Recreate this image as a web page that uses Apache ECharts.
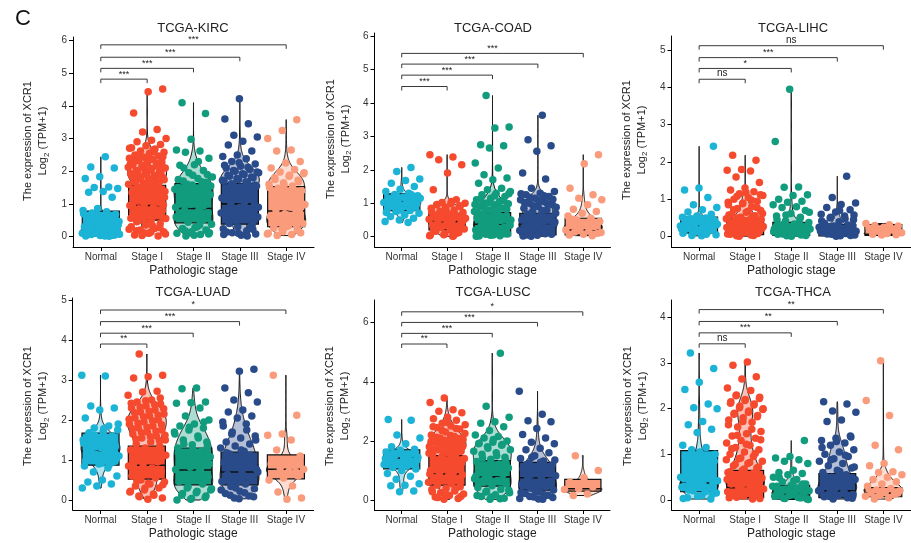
<!DOCTYPE html>
<html><head><meta charset="utf-8">
<script src="https://cdn.jsdelivr.net/npm/echarts@6/dist/echarts.min.js"></script>
<style>html,body{margin:0;padding:0;background:#fff}#c{width:911px;height:543px}</style>
</head><body><div id="c"></div>
<script>
// ---------------- data ----------------
const categories = ['Normal', 'Stage I', 'Stage II', 'Stage III', 'Stage IV'];
const stageColors = ['#1BB3D6', '#F64A2E', '#129C7E', '#2A4B8A', '#FA9B7C'];
const panelTitles = ['TCGA-KIRC', 'TCGA-COAD', 'TCGA-LIHC', 'TCGA-LUAD', 'TCGA-LUSC', 'TCGA-THCA'];
const comparisons = [[1, 2], [1, 3], [1, 4], [1, 5]];

const KIRC_values = [
  [2.44,2.13,2.1,1.83,1.78,1.52,1.5,1.47,1.38,1.36,1.2,0.86,0.8,0.76,0.72,0.68,0.63,0.58,0.55,0.5,0.46,0.42,0.4,0.36,0.33,0.3,0.28,0.25,0.22,0.2,0.18,0.15,0.13,0.1,0.08,0.06,0.05,0.03,0.02,0.01,0.12,0.35,0.45,0.6,0.04,0.09,0.7,0.65,0.52,0.38,0.32,0.26,0.16,0.11,0.07,0.02,0.24,0.48],
  [4.52,4.43,3.78,3.28,3.2,3.0,2.95,2.9,2.82,2.78,2.72,2.68,2.62,2.58,2.55,2.5,2.47,2.43,2.4,2.36,2.32,2.28,2.25,2.2,2.17,2.13,2.1,2.06,2.02,2.0,1.96,1.92,1.88,1.85,1.8,1.77,1.72,1.68,1.64,1.6,1.55,1.5,1.45,1.4,1.35,1.3,1.25,1.2,1.15,1.1,1.05,1.0,0.95,0.9,0.85,0.8,0.75,0.7,0.65,0.6,0.55,0.5,0.45,0.4,0.35,0.3,0.25,0.2,0.15,0.1,0.05,0.02,0.12,0.22,0.33,0.48,0.62,0.78,0.92,1.08,1.22,1.38,1.52,1.7,1.9,2.05,2.22,
   2.6,2.52,2.44,2.38,2.3,2.24,2.18,2.12,2.08,1.98,1.94,1.9,1.86,1.82,1.78,1.74,1.7,1.66,1.62,1.58,2.7,2.65,2.35,2.15,1.99,1.83,1.67,0.03,0.08,0.14,0.18,0.27,0.42,0.56,0.68,0.82,0.97,1.12,1.28,1.42],
  [4.1,3.77,2.98,2.65,2.62,2.58,2.4,2.2,2.18,2.02,1.95,1.82,1.78,1.7,1.66,1.58,1.5,1.42,1.35,1.28,1.2,1.12,1.05,0.98,0.9,0.86,0.8,0.72,0.65,0.58,0.5,0.44,0.38,0.3,0.25,0.2,0.15,0.1,0.06,0.02,0.12,0.28,0.55,0.95,1.25,1.45,2.3,2.1,1.9,1.88,1.75,1.68,1.6,1.55,1.3,1.15,1.0,0.7,0.6,0.35,0.18,0.08,0.04],
  [4.22,3.6,3.45,3.1,3.05,2.92,2.8,2.62,2.5,2.45,2.38,2.3,2.22,2.15,2.1,2.05,2.0,1.95,1.9,1.85,1.8,1.75,1.7,1.65,1.6,1.55,1.48,1.4,1.32,1.25,1.18,1.1,1.02,0.96,0.9,0.82,0.75,0.68,0.6,0.52,0.45,0.38,0.3,0.24,0.18,0.12,0.08,0.04,0.14,0.28,0.5,0.72,1.05,1.28,1.5,
   2.26,2.18,2.12,2.02,1.98,1.92,1.88,1.82,1.78,1.72,1.68,1.62,1.58,1.52,1.45,1.35,1.2,0.9,0.65,0.4,0.22,0.1,0.06,0.02],
  [3.58,3.25,3.0,2.65,2.62,2.3,2.25,2.1,2.05,1.98,1.92,1.85,1.8,1.72,1.65,1.6,1.55,1.48,1.4,1.32,1.25,1.15,1.05,0.98,0.9,0.82,0.76,0.7,0.62,0.55,0.48,0.4,0.32,0.26,0.2,0.15,0.1,0.06,0.03,0.12,0.3,0.58,0.85,1.2,1.95,1.88,1.75,1.68,1.58,1.5,1.35,1.1,0.95,0.65,0.45,0.35,0.22,0.08]
];
const COAD_values = [
  [2.07,1.95,1.72,1.68,1.6,1.5,1.42,1.35,1.3,1.26,1.22,1.18,1.12,1.08,1.05,1.02,0.98,0.95,0.9,0.86,0.82,0.78,0.75,0.7,0.65,0.6,0.55,0.5,0.45,0.42,1.15,1.0,0.92,1.1,1.25,1.2,1.15,1.0,0.95,0.88,0.8,0.72],
  [2.45,2.38,2.3,2.15,1.9,1.4,1.1,1.02,1.0,0.98,0.95,0.92,0.88,0.85,0.8,0.76,0.72,0.68,0.65,0.6,0.56,0.52,0.48,0.45,0.42,0.38,0.35,0.3,0.27,0.23,0.2,0.16,0.12,0.08,0.05,0.02,0.62,0.44,0.33,0.18,0.1,0.7,0.55,1.05,0.96,0.9,0.82,0.74,0.66,0.58,0.5,0.4,0.25,0.14,0.06,0.03,0.01],
  [4.22,3.28,3.25,2.75,2.72,2.65,2.2,2.05,1.85,1.75,1.7,1.6,1.45,1.4,1.35,1.3,1.25,1.2,1.15,1.1,1.05,1.0,0.98,0.95,0.9,0.85,0.8,0.75,0.72,0.68,0.62,0.58,0.52,0.48,0.44,0.4,0.36,0.32,0.28,0.24,0.2,0.16,0.12,0.08,0.05,0.02,0.1,0.3,0.5,0.65,0.14,0.26,0.38,0.56,0.03,0.07,
   1.28,1.22,1.12,1.08,1.02,0.96,0.92,0.88,0.82,0.78,0.7,0.6,0.45,0.34,0.22,0.18,0.09,0.04,0.01,0.15],
  [3.63,2.9,2.72,2.55,1.9,1.72,1.45,1.35,1.3,1.25,1.2,1.15,1.1,1.05,1.0,0.95,0.9,0.85,0.8,0.75,0.7,0.66,0.62,0.58,0.54,0.5,0.46,0.42,0.38,0.34,0.3,0.26,0.22,0.18,0.14,0.1,0.07,0.04,0.02,0.12,0.28,0.44,0.6,0.05,0.2,0.36,
   1.28,1.22,1.18,1.12,1.08,1.02,0.98,0.92,0.88,0.78,0.68,0.48,0.32,0.16,0.09,0.01],
  [2.45,2.18,1.45,1.25,1.15,1.1,0.95,0.82,0.75,0.7,0.62,0.55,0.5,0.45,0.4,0.35,0.3,0.25,0.2,0.17,0.14,0.1,0.07,0.05,0.03,0.22,0.12,0.38,0.52]
];
const LIHC_values = [
  [2.42,1.3,1.25,1.05,0.85,0.78,0.72,0.66,0.6,0.55,0.52,0.5,0.47,0.44,0.4,0.37,0.34,0.31,0.28,0.25,0.22,0.19,0.16,0.13,0.1,0.08,0.05,0.02,0.3,0.35,0.42,0.2,0.12,0.48,0.26,0.5,0.46,0.43,0.38,0.33,0.29,0.23,0.18,0.14,0.09,0.06,0.03],
  [2.18,2.05,1.8,1.78,1.76,1.6,1.45,1.3,1.25,1.2,1.15,1.1,1.05,1.0,0.95,0.9,0.85,0.8,0.75,0.7,0.65,0.6,0.56,0.52,0.48,0.45,0.42,0.38,0.35,0.32,0.28,0.25,0.22,0.19,0.16,0.13,0.1,0.07,0.04,0.02,0.3,0.2,0.12,0.4,0.05,0.27,0.15,0.36,0.08,0.44,
   0.58,0.54,0.5,0.46,0.43,0.39,0.33,0.29,0.24,0.21,0.17,0.14,0.11,0.06,0.03,0.01,0.62,0.68,0.72,0.78,0.88,0.92,0.98,1.08,1.12,1.18],
  [3.95,2.55,1.33,1.32,1.12,1.1,1.0,0.95,0.92,0.85,0.8,0.78,0.7,0.62,0.55,0.48,0.42,0.38,0.34,0.3,0.27,0.24,0.21,0.18,0.15,0.12,0.09,0.06,0.04,0.02,0.2,0.1,0.3,0.14,0.05,0.25,0.36,0.33,0.29,0.26,0.22,0.19,0.16,0.13,0.11,0.07,0.03,0.01,0.45,0.52,0.58,0.65],
  [1.62,1.05,0.9,0.86,0.78,0.72,0.66,0.6,0.55,0.5,0.45,0.4,0.35,0.31,0.28,0.25,0.22,0.19,0.16,0.13,0.1,0.08,0.06,0.04,0.02,0.12,0.2,0.05,0.15,0.09,0.27,0.3,0.26,0.23,0.21,0.18,0.14,0.11,0.07,0.03,0.01,0.42,0.48,0.52,0.58,0.7],
  [0.35,0.32,0.3,0.28,0.25,0.22,0.18,0.14,0.1,0.08,0.06,0.05,0.04]
];
const LUAD_values = [
  [3.12,3.1,2.35,2.3,2.25,2.05,1.85,1.8,1.75,1.7,1.65,1.6,1.55,1.5,1.45,1.4,1.35,1.3,1.25,1.2,1.15,1.1,1.05,1.0,0.95,0.9,0.85,0.8,0.7,0.6,0.5,0.45,0.4,0.35,0.3,1.22,1.28,1.18,1.38,0.98,0.88,1.62,1.9,1.78,1.68,1.58,1.48,1.42,1.32,1.12,1.02,0.92],
  [3.65,3.12,3.08,3.05,2.72,2.7,2.62,2.5,2.45,2.4,2.35,2.3,2.25,2.2,2.15,2.1,2.05,2.0,1.95,1.9,1.85,1.8,1.75,1.7,1.65,1.6,1.55,1.5,1.45,1.4,1.35,1.3,1.25,1.2,1.15,1.1,1.05,1.0,0.95,0.9,0.85,0.8,0.75,0.7,0.65,0.6,0.55,0.5,0.45,0.4,0.35,0.3,0.25,0.2,0.15,0.1,0.05,0.02,0.88,0.62,0.98,1.12,0.72,0.48,
   2.55,2.48,2.42,2.38,2.32,2.28,2.22,2.18,2.12,2.08,2.02,1.98,1.92,1.88,1.82,1.78,1.72,1.68,1.62,1.58,1.52,1.48,0.3,0.22,0.12,0.08,0.38,0.42],
  [2.8,2.78,2.45,2.43,2.42,2.3,2.1,2.0,1.9,1.85,1.8,1.75,1.7,1.6,1.5,1.45,1.38,1.3,1.22,1.15,1.08,1.0,0.94,0.88,0.82,0.76,0.7,0.64,0.58,0.52,0.46,0.4,0.34,0.28,0.22,0.16,0.1,0.04,0.0,0.75,0.62,0.9,1.05,0.5,1.95,1.82,1.65,1.55,1.4,1.34,1.26,1.18,1.12,0.3,0.25,0.18,0.12,0.06,0.02],
  [3.27,3.22,2.8,2.68,2.5,2.45,2.25,2.2,2.1,2.05,1.95,1.9,1.65,1.6,1.55,1.45,1.4,1.35,1.3,1.22,1.15,1.08,1.0,0.94,0.88,0.82,0.76,0.7,0.64,0.58,0.52,0.46,0.4,0.34,0.28,0.22,0.16,0.1,0.05,0.7,0.6,0.85,1.0,0.45,1.85,1.75,1.7,1.5,1.25,1.18,1.12,0.3,0.25,0.18,0.12,0.08,0.03],
  [3.12,2.12,1.65,1.62,1.5,1.25,1.1,1.0,0.9,0.85,0.8,0.77,0.72,0.66,0.6,0.55,0.5,0.35,0.2,0.05,0.02,0.95,0.7]
];
const LUSC_values = [
  [2.72,2.7,2.2,2.1,1.9,1.8,1.72,1.68,1.62,1.55,1.5,1.45,1.42,1.38,1.32,1.25,1.2,1.15,1.1,1.05,1.0,0.9,0.8,0.7,0.55,0.5,0.48,0.3,0.28,1.4,1.48,1.58,1.35,1.12],
  [3.45,3.3,3.05,3.0,2.95,2.8,2.75,2.7,2.6,2.55,2.5,2.45,2.4,2.3,2.2,2.15,2.1,2.05,2.0,1.95,1.9,1.85,1.8,1.75,1.7,1.65,1.6,1.55,1.5,1.45,1.4,1.35,1.3,1.2,1.1,1.0,0.95,0.9,0.85,0.8,0.75,0.7,0.65,0.6,0.55,0.5,0.45,0.4,0.35,0.3,0.25,0.2,0.15,0.1,0.05,0.02,0.88,1.15,0.72,1.25,
   2.62,2.48,2.42,2.35,2.25,2.18,2.12,2.08,2.02,1.98,1.92,1.88,1.82,1.78,1.72,1.68,1.62,1.58,1.52,0.08,0.12,0.18,0.28,0.38],
  [4.97,3.17,2.8,2.65,2.6,2.48,2.35,2.2,2.15,2.1,2.0,1.95,1.9,1.85,1.8,1.7,1.6,1.55,1.45,1.38,1.3,1.22,1.15,1.08,1.0,0.92,0.85,0.78,0.72,0.66,0.6,0.54,0.48,0.42,0.36,0.3,0.24,0.18,0.12,0.06,0.02,0.8,0.95,0.7,1.1,2.05,1.92,1.88,1.75,1.65,1.5,1.42,1.35,0.1,0.15,0.04,0.27,0.33],
  [3.68,2.9,2.68,2.65,2.42,2.22,2.1,1.95,1.9,1.75,1.7,1.6,1.5,1.4,1.32,1.25,1.18,1.1,1.02,0.95,0.88,0.82,0.76,0.7,0.64,0.58,0.52,0.46,0.4,0.34,0.28,0.22,0.16,0.1,0.05,0.02,0.75,0.6,0.9,1.05,0.45,1.45,1.35,1.28,1.2,1.12,0.3,0.25,0.18,0.12,0.08,0.03],
  [1.5,1.0,0.75,0.6,0.45,0.38,0.35,0.2,0.15]
];
const THCA_values = [
  [3.22,2.88,2.58,2.42,2.1,2.02,2.0,1.72,1.65,1.55,1.48,1.2,1.15,1.1,1.0,0.9,0.8,0.7,0.6,0.5,0.45,0.4,0.37,0.34,0.3,0.25,0.2,0.15,0.1,0.05,0.02,0.35,0.28,0.18,0.65,0.85,1.05,0.95,0.75,0.55,0.42,0.32,0.22,0.12,0.08,0.03],
  [3.02,2.95,2.7,2.65,2.45,2.4,2.3,2.25,2.2,2.15,2.1,2.05,2.0,1.95,1.9,1.85,1.8,1.75,1.7,1.6,1.5,1.45,1.4,1.35,1.3,1.25,1.2,1.15,1.1,1.05,1.0,0.95,0.9,0.85,0.8,0.75,0.7,0.65,0.6,0.55,0.5,0.45,0.4,0.35,0.3,0.27,0.24,0.2,0.16,0.12,0.08,0.05,0.02,0.3,0.25,0.2,0.15,0.1,0.35,0.45,0.28,
   2.28,2.22,2.18,2.12,2.08,2.02,1.98,1.92,1.88,1.82,1.72,1.65,1.55,1.42,1.32,1.22,1.12,1.02,0.92,0.88,0.82,0.78,0.72,0.68,0.62,0.58,0.52,0.48,0.42,0.38,0.32,0.22,0.18,0.13,0.06,0.03],
  [1.3,0.95,0.92,0.88,0.85,0.8,0.65,0.6,0.58,0.55,0.5,0.45,0.4,0.35,0.32,0.3,0.27,0.24,0.2,0.17,0.14,0.12,0.1,0.08,0.06,0.04,0.02,0.15,0.1,0.05,0.22,0.3,0.26,0.22,0.18,0.13,0.09,0.05,0.03,0.01,0.42,0.48,0.35],
  [2.15,2.1,1.95,1.92,1.75,1.72,1.4,1.35,1.3,1.25,1.2,1.1,1.05,1.0,0.95,0.9,0.85,0.8,0.75,0.7,0.65,0.6,0.55,0.5,0.45,0.4,0.35,0.3,0.25,0.2,0.18,0.15,0.12,0.1,0.07,0.05,0.02,0.2,0.3,0.1,1.38,1.28,1.15,0.98,0.88,0.72,0.62,0.52,0.42,0.32,0.22,0.14,0.08,0.04],
  [3.05,2.18,1.85,1.2,1.1,0.8,0.75,0.62,0.6,0.55,0.5,0.45,0.4,0.35,0.3,0.25,0.22,0.2,0.18,0.15,0.12,0.1,0.08,0.05,0.02,0.15,0.2]
];

// box statistics [Q1, median, Q3] per stage
const KIRC_box = [[0.1,0.33,0.78],[0.5,0.95,1.57],[0.42,0.86,1.62],[0.38,1.0,1.62],[0.3,0.78,1.53]];
const COAD_box = [[0.78,1.05,1.28],[0.2,0.45,0.7],[0.03,0.37,0.72],[0.05,0.38,0.7],[0.05,0.2,0.55]];
const LIHC_box = [[0.1,0.3,0.52],[0.05,0.25,0.47],[0.03,0.18,0.38],[0.02,0.12,0.32],[0.03,0.06,0.32]];
const LUAD_box = [[0.87,1.23,1.67],[0.52,0.87,1.35],[0.38,0.75,1.3],[0.38,0.7,1.2],[0.53,0.77,1.13]];
const LUSC_box = [[1.05,1.42,1.7],[0.5,0.88,1.5],[0.47,0.78,1.33],[0.33,0.75,1.27],[0.3,0.38,0.7]];
const THCA_box = [[0.18,0.37,1.08],[0.05,0.27,0.65],[0.02,0.12,0.32],[0.05,0.2,0.58],[0.07,0.15,0.27]];

// significance labels (Normal vs Stage I..IV) and bracket heights
const KIRC_sig = ['***','***','***','***'];
const COAD_sig = ['***','***','***','***'];
const LIHC_sig = ['ns','*','***','ns'];
const LUAD_sig = ['**','***','***','*'];
const LUSC_sig = ['**','***','***','*'];
const THCA_sig = ['ns','***','**','**'];
const KIRC_sigY = [4.82,5.15,5.49,5.87];
const COAD_sigY = [4.49,4.83,5.16,5.48];
const LIHC_sigY = [4.22,4.51,4.80,5.12];
const LUAD_sigY = [3.90,4.17,4.46,4.75];
const LUSC_sigY = [5.28,5.64,6.01,6.37];
const THCA_sigY = [3.42,3.66,3.91,4.17];

// tick labels
const KIRC_ticks = [0,1,2,3,4,5,6];
const COAD_ticks = [0,1,2,3,4,5,6];
const LIHC_ticks = [0,1,2,3,4,5];
const LUAD_ticks = [0,1,2,3,4,5];
const LUSC_ticks = [0,2,4,6];
const THCA_ticks = [0,1,2,3,4];

const panelValues = [KIRC_values, COAD_values, LIHC_values, LUAD_values, LUSC_values, THCA_values];
const panelBoxes = [KIRC_box, COAD_box, LIHC_box, LUAD_box, LUSC_box, THCA_box];
const panelSig = [KIRC_sig, COAD_sig, LIHC_sig, LUAD_sig, LUSC_sig, THCA_sig];
const panelSigY = [KIRC_sigY, COAD_sigY, LIHC_sigY, LUAD_sigY, LUSC_sigY, THCA_sigY];
const panelTicks = [KIRC_ticks, COAD_ticks, LIHC_ticks, LUAD_ticks, LUSC_ticks, THCA_ticks];

// ---------------- layout ----------------
const layout = [
  {left:73,    top:37,  width:241,   height:210, ymin:-0.32, ymax:6.11, nameX:35.5, nameY:141, titleX:193, titleY:28},
  {left:374.5, top:33,  width:236,   height:214, ymin:-0.31, ymax:6.09, nameX:338,  nameY:139, titleX:493, titleY:28},
  {left:671.5, top:36,  width:241.5, height:211, ymin:-0.28, ymax:5.38, nameX:634,  nameY:140, titleX:793, titleY:28},
  {left:72.7,  top:298, width:241,   height:212, ymin:-0.25, ymax:5.05, nameX:35.5, nameY:406, titleX:193, titleY:292},
  {left:374.5, top:300, width:235.5, height:210, ymin:-0.34, ymax:6.77, nameX:337,  nameY:406, titleX:493, titleY:292},
  {left:671.5, top:300, width:241.5, height:210, ymin:-0.22, ymax:4.38, nameX:635,  nameY:406, titleX:793, titleY:292}
];
const FONT = '"Liberation Sans", Arial, Helvetica, sans-serif';

function quantile(s, p) {
  const idx = (s.length - 1) * p, lo = Math.floor(idx), hi = Math.ceil(idx);
  return s[lo] + (s[hi] - s[lo]) * (idx - lo);
}
// Gaussian KDE (Silverman bandwidth), trimmed to the data range
function violinShape(vals) {
  const s = vals.slice().sort((a, b) => a - b), n = s.length;
  const mean = s.reduce((a, b) => a + b, 0) / n;
  const sd = Math.sqrt(s.reduce((a, b) => a + (b - mean) * (b - mean), 0) / (n - 1));
  const iqr = quantile(s, 0.75) - quantile(s, 0.25);
  let bw = 0.9 * Math.min(sd, iqr / 1.34 || sd) * Math.pow(n, -0.2);
  if (!(bw > 0)) bw = 0.05;
  const lo = s[0], hi = s[n - 1], steps = 140, out = [];
  for (let k = 0; k <= steps; k++) {
    const y = lo + (hi - lo) * k / steps;
    let d = 0;
    for (const v of s) { const z = (y - v) / bw; d += Math.exp(-0.5 * z * z); }
    out.push([y, d]);
  }
  const maxd = Math.max(...out.map(o => o[1]));
  return out.map(([y, d]) => [y, Math.pow(d / maxd, 2.5) * 0.42]);
}
const violinShapes = panelValues.map(pv => pv.map(violinShape));

function hexA(hex, a) {
  const r = parseInt(hex.slice(1, 3), 16), g = parseInt(hex.slice(3, 5), 16), b = parseInt(hex.slice(5, 7), 16);
  return `rgba(${r},${g},${b},${a})`;
}

const grids = [], xAxes = [], yAxes = [], series = [], graphics = [];
graphics.push({type:'text', x:15, y:19, style:{text:'C', font:`22px ${FONT}`, fill:'#111', verticalAlign:'middle'}});

layout.forEach((L, i) => {
  grids.push({left:L.left, top:L.top, width:L.width, height:L.height});
  xAxes.push({
    gridIndex:i, type:'value', min:0.4, max:5.6,
    axisLine:{show:true, onZero:false, lineStyle:{color:'#000', width:1}},
    axisTick:{show:true, customValues:[1,2,3,4,5], length:4, lineStyle:{color:'#000'}},
    axisLabel:{customValues:[1,2,3,4,5], formatter:v => categories[Math.round(v) - 1], fontSize:10, color:'#333', margin:5, fontFamily:FONT},
    splitLine:{show:false},
    name:'Pathologic stage', nameLocation:'middle', nameGap:18,
    nameTextStyle:{fontSize:12, color:'#222', fontFamily:FONT}
  });
  yAxes.push({
    gridIndex:i, type:'value', min:L.ymin, max:L.ymax,
    axisLine:{show:true, onZero:false, lineStyle:{color:'#000', width:1}},
    axisTick:{show:true, customValues:panelTicks[i], length:4, lineStyle:{color:'#000'}},
    axisLabel:{customValues:panelTicks[i], fontSize:10, color:'#333', margin:6, fontFamily:FONT},
    splitLine:{show:false}
  });
  graphics.push({type:'text', x:L.titleX, y:L.titleY,
    style:{text:panelTitles[i], font:`13px ${FONT}`, fill:'#222', align:'center', verticalAlign:'middle'}});
  graphics.push({type:'text', x:L.nameX, y:L.nameY, rotation:Math.PI / 2,
    style:{text:'The expression of XCR1\n{n|Log}{s|2}{n| (TPM+1)}', font:`11px ${FONT}`, fill:'#222',
      align:'center', verticalAlign:'middle', lineHeight:15,
      rich:{n:{fontSize:11, fontFamily:FONT, lineHeight:15}, s:{fontSize:8, fontFamily:FONT, lineHeight:8, verticalAlign:'bottom'}}}});

  // violins (bottom layer)
  series.push({
    type:'custom', xAxisIndex:i, yAxisIndex:i, z:1, silent:true,
    data:categories.map((_, c) => [c + 1, c]),
    renderItem:(params, api) => {
      const x = api.value(0), c = api.value(1);
      const shape = violinShapes[i][c];
      const left = shape.map(([y, w]) => api.coord([x - w, y]));
      const right = shape.slice().reverse().map(([y, w]) => api.coord([x + w, y]));
      return {type:'polygon', shape:{points:left.concat(right)},
        style:{fill:hexA(stageColors[c], 0.35), stroke:'#111', lineWidth:1}};
    }
  });
  // boxes
  series.push({
    type:'custom', xAxisIndex:i, yAxisIndex:i, z:2, silent:true,
    data:panelBoxes[i].map((b, c) => [c + 1, b[0], b[1], b[2], c]),
    renderItem:(params, api) => {
      const x = api.value(0), q1 = api.value(1), med = api.value(2), q3 = api.value(3), c = api.value(4);
      const tl = api.coord([x - 0.4, q3]), br = api.coord([x + 0.4, q1]);
      const ml = api.coord([x - 0.4, med]), mr = api.coord([x + 0.4, med]);
      return {type:'group', children:[
        {type:'rect', shape:{x:tl[0], y:tl[1], width:br[0] - tl[0], height:br[1] - tl[1]},
          style:{fill:stageColors[c], stroke:'#111', lineWidth:1.2}},
        {type:'line', shape:{x1:ml[0], y1:ml[1], x2:mr[0], y2:mr[1]}, style:{stroke:'#111', lineWidth:1.6}}
      ]};
    }
  });
  // jittered points (top layer)
  const pts = [];
  panelValues[i].forEach((vals, c) => {
    vals.forEach((v, k) => {
      const j = (((k + 1) * 0.6180339887 + c * 0.29 + i * 0.13) % 1 - 0.5) * 0.82;
      pts.push([c + 1 + j, v, c]);
    });
  });
  series.push({
    type:'scatter', xAxisIndex:i, yAxisIndex:i, z:3, silent:true, symbolSize:7.5,
    data:pts, itemStyle:{color:p => stageColors[p.data[2]], opacity:1}
  });
  // significance brackets
  series.push({
    type:'custom', xAxisIndex:i, yAxisIndex:i, z:5, silent:true,
    data:comparisons.map((cmp, k) => [cmp[0], cmp[1], panelSigY[i][k], k]),
    renderItem:(params, api) => {
      const a = api.value(0), b = api.value(1), y = api.value(2), k = api.value(3);
      const p1 = api.coord([a, y]), p2 = api.coord([b, y]);
      const lab = panelSig[i][k];
      return {type:'group', children:[
        {type:'polyline', shape:{points:[[p1[0], p1[1] + 4], p1, p2, [p2[0], p2[1] + 4]]},
          style:{stroke:'#222', lineWidth:0.9, fill:null}},
        {type:'text', x:(p1[0] + p2[0]) / 2, y:p1[1] - 0.5,
          style:{text:lab, font:`${lab === 'ns' ? 10 : 9}px ${FONT}`, fill:'#222', align:'center', verticalAlign:'bottom'}}
      ]};
    }
  });
});

const chart = echarts.init(document.getElementById('c'), null, {renderer:'canvas'});
chart.setOption({
  animation:false, backgroundColor:'#fff',
  grid:grids, xAxis:xAxes, yAxis:yAxes, series:series, graphic:graphics
});
</script>
</body></html>
